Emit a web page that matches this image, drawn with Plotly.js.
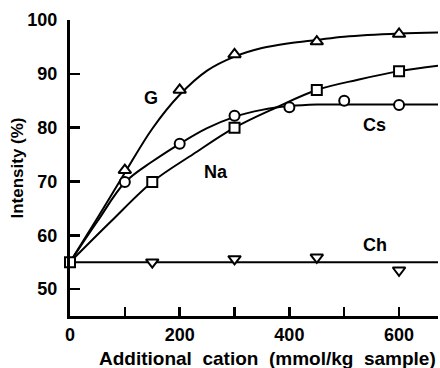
<!DOCTYPE html>
<html>
<head>
<meta charset="utf-8">
<script src="https://cdn.plot.ly/plotly-3.0.1.min.js"></script>
<style>html,body{margin:0;padding:0;background:#fff;}#chart{width:440px;height:368px;}</style>
</head>
<body>
<div id="chart"></div>
<script>
// Measured points
const gX  = [100, 200, 300, 450, 600];
const gY  = [72.1, 87.0, 93.6, 96.0, 97.4];
const naX = [0, 150, 300, 450, 600];
const naY = [55.0, 69.9, 80.0, 87.0, 90.5];
const csX = [100, 200, 300, 400, 500, 600];
const csY = [69.9, 77.0, 82.2, 83.8, 85.0, 84.2];
const chX = [150, 300, 450, 600];
const chY = [55.0, 55.6, 55.9, 53.5];

// Fitted curves
const gCurveX  = [0, 50, 100, 150, 200, 250, 300, 350, 400, 450, 500, 600, 671];
const gCurveY  = [55, 63.2, 71.6, 79.8, 86.1, 90.6, 93.2, 94.8, 95.7, 96.3, 96.9, 97.5, 97.7];
const naCurveX = [0, 75, 150, 225, 300, 375, 450, 525, 600, 671];
const naCurveY = [55, 62.6, 69.9, 75.1, 80.0, 83.7, 87.0, 88.9, 90.5, 91.5];
const csCurveX = [0, 50, 100, 150, 200, 250, 300, 350, 400, 450, 500, 600, 671];
const csCurveY = [55, 62.6, 69.8, 73.7, 77.0, 79.9, 82.0, 83.3, 84.0, 84.3, 84.3, 84.3, 84.3];
const chCurveX = [0, 671];
const chCurveY = [55, 55];

// Labels
const labelText = ['G', 'Na', 'Cs', 'Ch'];
const labelX = [147, 266, 556, 556];
const labelY = [85.6, 71.7, 80.5, 58.2];

// Axis ticks
const xTickVals = [0, 100, 200, 300, 400, 500, 600];
const xTickText = ['0', '', '200', '', '400', '', '600'];
const yTickVals = [50, 60, 70, 80, 90, 100];

const xTitle = 'Additional  cation  (mmol/kg  sample)';
const yTitle = 'Intensity (%)';

const FONT = 'Liberation Sans, Arial, sans-serif';

function curve(x, y, name) {
  return {x: x, y: y, name: name, mode: 'lines', type: 'scatter',
    line: {color: '#000', width: 2, shape: 'spline', smoothing: 1},
    hoverinfo: 'skip', showlegend: false, cliponaxis: true};
}
function pts(x, y, name, sym, size) {
  return {x: x, y: y, name: name, mode: 'markers', type: 'scatter',
    marker: {symbol: sym, size: size, color: '#fff', line: {color: '#000', width: 2}},
    showlegend: false, cliponaxis: false};
}

const data = [
  curve(chCurveX, chCurveY, 'Ch fit'),
  curve(csCurveX, csCurveY, 'Cs fit'),
  curve(naCurveX, naCurveY, 'Na fit'),
  curve(gCurveX, gCurveY, 'G fit'),
  pts(chX, chY, 'Ch', 'triangle-down', 11),
  pts(csX, csY, 'Cs', 'circle', 10),
  pts(gX, gY, 'G', 'triangle-up', 11),
  pts(naX, naY, 'Na', 'square', 10)
];

const annotations = labelText.map((t, i) => ({
  x: labelX[i], y: labelY[i], xref: 'x', yref: 'y', text: t, showarrow: false,
  font: {family: FONT, size: 18, color: '#000', weight: 'bold'}
}));
// x-axis title, placed as in the reference (slightly right of the plot centre)
annotations.push({
  x: 267, y: 358, xref: 'paper', yref: 'paper', text: xTitle, showarrow: false,
  xanchor: 'center', yanchor: 'middle',
  font: {family: FONT, size: 19, color: '#000', weight: 'bold'}
});

const layout = {
  width: 440, height: 368,
  margin: {l: 70, r: 2, t: 20, b: 52},
  paper_bgcolor: '#fff', plot_bgcolor: '#fff',
  font: {family: FONT, size: 18, color: '#000', weight: 'bold'},
  showlegend: false,
  xaxis: {
    range: [0, 671], tickvals: xTickVals, ticktext: xTickText,
    ticks: 'inside', ticklen: 9, tickwidth: 2.5, tickcolor: '#000',
    showline: true, linewidth: 3, linecolor: '#000',
    showgrid: false, zeroline: false,
    tickfont: {family: FONT, size: 18, weight: 'bold'}
  },
  yaxis: {
    range: [45, 100], tickvals: yTickVals,
    ticks: 'inside', ticklen: 10, tickwidth: 2.5, tickcolor: '#000',
    showline: true, linewidth: 3, linecolor: '#000',
    showgrid: false, zeroline: false, ticklabelstandoff: 6,
    tickfont: {family: FONT, size: 18, weight: 'bold'},
    title: {text: yTitle, standoff: 0,
      font: {family: FONT, size: 17, weight: 'bold'}}
  },
  annotations: annotations
};

// convert the x-title pixel position to paper fractions
const pw = layout.width - layout.margin.l - layout.margin.r;
const ph = layout.height - layout.margin.t - layout.margin.b;
const xt = annotations[annotations.length - 1];
xt.x = (xt.x - layout.margin.l) / pw;
xt.y = (layout.height - layout.margin.b - xt.y) / ph;

Plotly.newPlot('chart', data, layout, {staticPlot: true, displayModeBar: false});
</script>
</body>
</html>
